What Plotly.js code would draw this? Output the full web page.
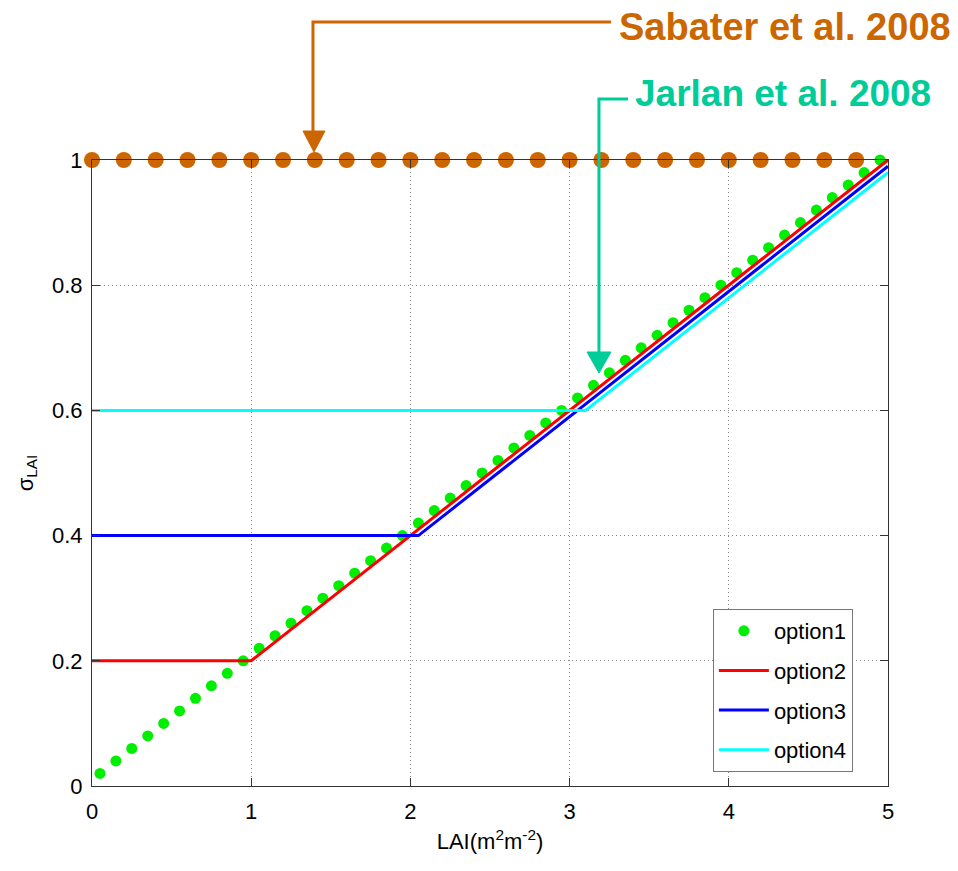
<!DOCTYPE html>
<html>
<head>
<meta charset="utf-8">
<script src="https://cdn.plot.ly/plotly-3.0.1.min.js"></script>
<style>html,body{margin:0;padding:0;background:#fff;}</style>
</head>
<body>
<div id="chart" style="width:958px;height:871px;"></div>
<script>
// option1: green dots
const opt1X = [0.05,0.15,0.25,0.35,0.45,0.55,0.65,0.75,0.85,0.95,
               1.05,1.15,1.25,1.35,1.45,1.55,1.65,1.75,1.85,1.95,
               2.05,2.15,2.25,2.35,2.45,2.55,2.65,2.75,2.85,2.95,
               3.05,3.15,3.25,3.35,3.45,3.55,3.65,3.75,3.85,3.95,
               4.05,4.15,4.25,4.35,4.45,4.55,4.65,4.75,4.85,4.95];
const opt1Y = [0.02,0.04,0.06,0.08,0.10,0.12,0.14,0.16,0.18,0.20,
               0.22,0.24,0.26,0.28,0.30,0.32,0.34,0.36,0.38,0.40,
               0.42,0.44,0.46,0.48,0.50,0.52,0.54,0.56,0.58,0.60,
               0.62,0.64,0.66,0.68,0.70,0.72,0.74,0.76,0.78,0.80,
               0.82,0.84,0.86,0.88,0.90,0.92,0.94,0.96,0.98,1.00];
// option2..4: piecewise lines
const opt2X = [0, 1.0, 5];   const opt2Y = [0.2, 0.2, 1.0];
const opt3X = [0, 2.05, 5];  const opt3Y = [0.4, 0.4, 0.99];
const opt4X = [0, 3.1, 5];   const opt4Y = [0.6, 0.6, 0.98];
// Sabater et al. 2008: constant sigma = 1
const sabX = [0,0.2,0.4,0.6,0.8,1.0,1.2,1.4,1.6,1.8,2.0,2.2,2.4,2.6,2.8,3.0,3.2,3.4,3.6,3.8,4.0,4.2,4.4,4.6,4.8];
const sabY = [1,1,1,1,1,1,1,1,1,1,1,1,1,1,1,1,1,1,1,1,1,1,1,1,1];
const xTicks = [0,1,2,3,4,5];
const yTicks = [0,0.2,0.4,0.6,0.8,1];

const FONT = 'Liberation Sans, Arial, Helvetica, sans-serif';
const ORANGE = '#cc6600';
const TEAL = '#00cc99';

const traces = [
  {x: sabX, y: sabY, mode: 'markers', name: 'Sabater', showlegend: false, cliponaxis: false,
   marker: {color: ORANGE, size: 16}},
  {x: opt1X, y: opt1Y, mode: 'markers', name: 'option1', legendgroup: 'g1', cliponaxis: false,
   marker: {color: '#00ee00', size: 11}},
  {x: opt2X, y: opt2Y, mode: 'lines', name: 'option2', legendgroup: 'g2', line: {color: '#ff0000', width: 3}},
  {x: opt3X, y: opt3Y, mode: 'lines', name: 'option3', legendgroup: 'g3', line: {color: '#0000ff', width: 3}},
  {x: opt4X, y: opt4Y, mode: 'lines', name: 'option4', legendgroup: 'g4', line: {color: '#00ffff', width: 3}}
];

const axisCommon = {
  showline: true, linecolor: '#333', linewidth: 1, mirror: 'ticks',
  ticks: 'inside', ticklen: 8, tickcolor: '#333',
  showgrid: true, gridcolor: '#888', griddash: '1px,3px', gridwidth: 1,
  zeroline: false, tickfont: {family: FONT, size: 22, color: '#000'}
};

const layout = {
  width: 958, height: 871, autosize: false,
  margin: {l: 92, r: 70, t: 160, b: 85},
  paper_bgcolor: '#fff', plot_bgcolor: '#fff',
  font: {family: FONT, color: '#000'},
  xaxis: Object.assign({}, axisCommon, {
    range: [0, 5], tickvals: xTicks, ticklabelstandoff: 6,
    title: {text: 'LAI(m<sup>2</sup>m<sup>-2</sup>)', font: {family: FONT, size: 22}, standoff: 10}
  }),
  yaxis: Object.assign({}, axisCommon, {
    range: [0, 1], tickvals: yTicks, ticklabelstandoff: 4,
    title: {text: 'σ<sub>LAI</sub>', font: {family: FONT, size: 22}, standoff: 12}
  }),
  showlegend: true,
  legend: {
    x: 0.780, y: 0.2827, xanchor: 'left', yanchor: 'top',
    bgcolor: '#fff', bordercolor: '#777', borderwidth: 1,
    font: {family: FONT, size: 22, color: '#000'},
    traceorder: 'grouped', tracegroupgap: 8, itemwidth: 50
  },
  shapes: [
    {type: 'path', xref: 'paper', yref: 'paper',
     path: 'M 0.6520 1.2204 L 0.2776 1.2204 L 0.2776 1.0463',
     line: {color: ORANGE, width: 3}},
    {type: 'path', xref: 'paper', yref: 'paper',
     path: 'M 0.2651 1.0463 L 0.2927 1.0463 L 0.2789 1.0128 Z',
     fillcolor: ORANGE, line: {color: ORANGE, width: 1}},
    {type: 'path', xref: 'paper', yref: 'paper',
     path: 'M 0.6734 1.0974 L 0.6369 1.0974 L 0.6369 0.6933',
     line: {color: TEAL, width: 3}},
    {type: 'path', xref: 'paper', yref: 'paper',
     path: 'M 0.6219 0.6933 L 0.6520 0.6933 L 0.6369 0.6597 Z',
     fillcolor: TEAL, line: {color: TEAL, width: 1}}
  ],
  annotations: [
    {text: '<b>Sabater et al. 2008</b>', xref: 'paper', yref: 'paper',
     x: 1.0817, y: 1.2125, xanchor: 'right', yanchor: 'middle', showarrow: false,
     font: {family: FONT, size: 38, color: ORANGE}},
    {text: '<b>Jarlan et al. 2008</b>', xref: 'paper', yref: 'paper',
     x: 0.6796, y: 1.107, xanchor: 'left', yanchor: 'middle', showarrow: false,
     font: {family: FONT, size: 37, color: TEAL}}
  ]
};

Plotly.newPlot('chart', traces, layout, {displayModeBar: false, staticPlot: true});
</script>
</body>
</html>
